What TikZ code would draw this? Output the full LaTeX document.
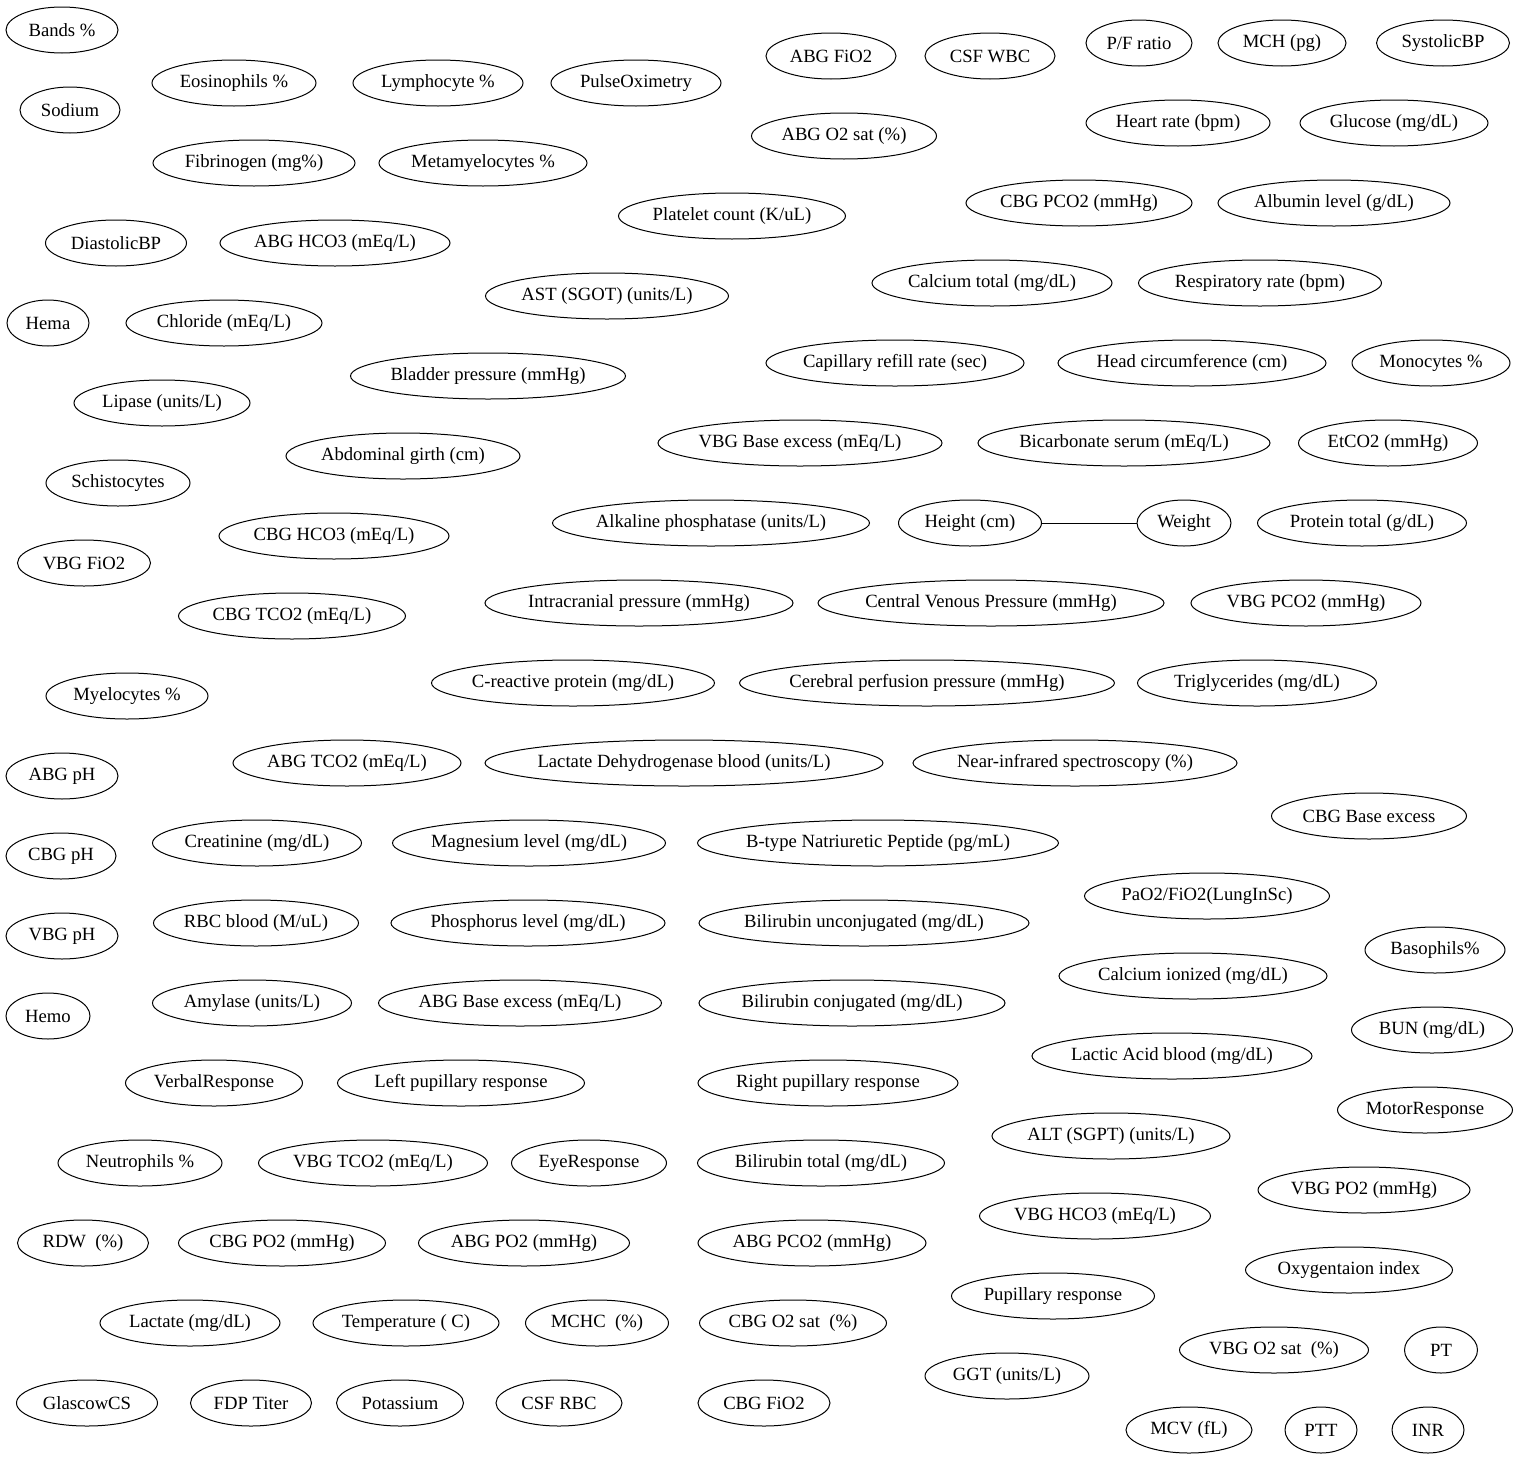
\documentclass[tikz,border=0pt]{standalone}
\usepackage{fontspec}
\setmainfont{Liberation Serif}
\usetikzlibrary{shapes.geometric}

\tikzset{var/.style={ellipse, draw, line width=1pt, inner xsep=-6pt, inner ysep=0pt, minimum height=46pt,
  font=\fontsize{18.67}{22}\selectfont}}

\begin{document}
\begin{tikzpicture}[x=1pt,y=-1pt]
  \useasboundingbox (0,0) rectangle (1521,1459);

  \node (bands)		at (62,30)	[var, minimum width=112]	{Bands \%};
  \node (sodium)	at (70,110)	[var, minimum width=100]	{Sodium};
  \node (eosinophils)	at (234,83)	[var, minimum width=164]	{Eosinophils \%};
  \node (lymphocyte)	at (438,83)	[var, minimum width=170]	{Lymphocyte \%};
  \node (pulseox)	at (636,83)	[var, minimum width=170]	{PulseOximetry};
  \node (fibrinogen)	at (254,163)	[var, minimum width=202]	{Fibrinogen (mg\%)};
  \node (metamyelo)	at (483,163)	[var, minimum width=208]	{Metamyelocytes \%};
  \node (abg-fio2)	at (831,56)	[var, minimum width=130]	{ABG FiO2};
  \node (csf-wbc)	at (990,56)	[var, minimum width=130]	{CSF WBC};
  \node (pf-ratio)	at (1139,43)	[var, minimum width=106]	{P/F ratio};
  \node (mch)		at (1282,43)	[var, minimum width=128]	{MCH (pg)};
  \node (systolic)	at (1443,43)	[var, minimum width=133]	{SystolicBP};
  \node (abg-o2sat)	at (844,136)	[var, minimum width=185]	{ABG O2 sat (\%)};
  \node (heart-rate)	at (1178,123)	[var, minimum width=184]	{Heart rate (bpm)};
  \node (glucose)	at (1394,123)	[var, minimum width=188]	{Glucose (mg/dL)};
  \node (platelet)	at (732,216)	[var, minimum width=227]	{Platelet count (K/uL)};
  \node (cbg-pco2)	at (1079,203)	[var, minimum width=226]	{CBG PCO2 (mmHg)};
  \node (albumin)	at (1334,203)	[var, minimum width=232]	{Albumin level (g/dL)};
  \node (diastolic)	at (116,243)	[var, minimum width=141]	{DiastolicBP};
  \node (abg-hco3)	at (335,243)	[var, minimum width=230]	{ABG HCO3 (mEq/L)};
  \node (ast)		at (607,296)	[var, minimum width=243]	{AST (SGOT) (units/L)};
  \node (calcium-tot)	at (992,283)	[var, minimum width=240]	{Calcium total (mg/dL)};
  \node (resp-rate)	at (1260,283)	[var, minimum width=243]	{Respiratory rate (bpm)};
  \node (hema)		at (48,323)	[var, minimum width=82]		{Hema};
  \node (chloride)	at (224,323)	[var, minimum width=196]	{Chloride (mEq/L)};
  \node (bladder)	at (488,376)	[var, minimum width=275]	{Bladder pressure (mmHg)};
  \node (cap-refill)	at (895,363)	[var, minimum width=258]	{Capillary refill rate (sec)};
  \node (head-circ)	at (1192,363)	[var, minimum width=268]	{Head circumference (cm)};
  \node (monocytes)	at (1431,363)	[var, minimum width=158]	{Monocytes \%};
  \node (lipase)	at (162,403)	[var, minimum width=176]	{Lipase (units/L)};
  \node (abd-girth)	at (403,456)	[var, minimum width=234]	{Abdominal girth (cm)};
  \node (vbg-be)	at (800,443)	[var, minimum width=284]	{VBG Base excess (mEq/L)};
  \node (bicarb)	at (1124,443)	[var, minimum width=292]	{Bicarbonate serum (mEq/L)};
  \node (etco2)		at (1388,443)	[var, minimum width=179]	{EtCO2 (mmHg)};
  \node (schisto)	at (118,483)	[var, minimum width=144]	{Schistocytes};
  \node (cbg-hco3)	at (334,536)	[var, minimum width=230]	{CBG HCO3 (mEq/L)};
  \node (alk-phos)	at (711,523)	[var, minimum width=317]	{Alkaline phosphatase (units/L)};
  \node (height)	at (970,523)	[var, minimum width=143]	{Height (cm)};
  \node (weight)	at (1184,523)	[var, minimum width=94]		{Weight};
  \node (protein)	at (1362,523)	[var, minimum width=209]	{Protein total (g/dL)};
  \node (vbg-fio2)	at (84,563)	[var, minimum width=133]	{VBG FiO2};
  \node (cbg-tco2)	at (292,616)	[var, minimum width=227]	{CBG TCO2 (mEq/L)};
  \node (icp)		at (639,603)	[var, minimum width=308]	{Intracranial pressure (mmHg)};
  \node (cvp)		at (991,603)	[var, minimum width=346]	{Central Venous Pressure (mmHg)};
  \node (vbg-pco2)	at (1306,603)	[var, minimum width=230]	{VBG PCO2 (mmHg)};
  \node (myelo)		at (127,696)	[var, minimum width=162]	{Myelocytes \%};
  \node (crp)		at (573,683)	[var, minimum width=283]	{C-reactive protein (mg/dL)};
  \node (cpp)		at (927,683)	[var, minimum width=375]	{Cerebral perfusion pressure (mmHg)};
  \node (trigly)	at (1257,683)	[var, minimum width=239]	{Triglycerides (mg/dL)};
  \node (abg-ph)	at (62,776)	[var, minimum width=112]	{ABG pH};
  \node (abg-tco2)	at (347,763)	[var, minimum width=228]	{ABG TCO2 (mEq/L)};
  \node (ldh)		at (684,763)	[var, minimum width=398]	{Lactate Dehydrogenase blood (units/L)};
  \node (nirs)		at (1075,763)	[var, minimum width=324]	{Near-infrared spectroscopy (\%)};
  \node (cbg-be)	at (1369,816)	[var, minimum width=195]	{CBG Base excess};
  \node (cbg-ph)	at (61,856)	[var, minimum width=110]	{CBG pH};
  \node (creatinine)	at (257,843)	[var, minimum width=209]	{Creatinine (mg/dL)};
  \node (magnesium)	at (529,843)	[var, minimum width=273]	{Magnesium level (mg/dL)};
  \node (bnp)		at (878,843)	[var, minimum width=361]	{B-type Natriuretic Peptide (pg/mL)};
  \node (pf-lung)	at (1207,896)	[var, minimum width=245]	{PaO2/FiO2(LungInSc)};
  \node (vbg-ph)	at (62,936)	[var, minimum width=112]	{VBG pH};
  \node (rbc)		at (256,923)	[var, minimum width=205]	{RBC blood (M/uL)};
  \node (phosphorus)	at (528,923)	[var, minimum width=274]	{Phosphorus level (mg/dL)};
  \node (bili-unconj)	at (864,923)	[var, minimum width=330]	{Bilirubin unconjugated (mg/dL)};
  \node (basophils)	at (1435,950)	[var, minimum width=140]	{Basophils\%};
  \node (calcium-ion)	at (1193,976)	[var, minimum width=268]	{Calcium ionized (mg/dL)};
  \node (hemo)		at (48,1016)	[var, minimum width=84]		{Hemo};
  \node (amylase)	at (252,1003)	[var, minimum width=199]	{Amylase (units/L)};
  \node (abg-be)	at (520,1003)	[var, minimum width=283]	{ABG Base excess (mEq/L)};
  \node (bili-conj)	at (852,1003)	[var, minimum width=306]	{Bilirubin conjugated (mg/dL)};
  \node (bun)		at (1432,1030)	[var, minimum width=161]	{BUN (mg/dL)};
  \node (lactic)	at (1172,1056)	[var, minimum width=280]	{Lactic Acid blood (mg/dL)};
  \node (verbal)	at (214,1083)	[var, minimum width=177]	{VerbalResponse};
  \node (left-pupil)	at (461,1083)	[var, minimum width=247]	{Left pupillary response};
  \node (right-pupil)	at (828,1083)	[var, minimum width=260]	{Right pupillary response};
  \node (motor)		at (1425,1110)	[var, minimum width=175]	{MotorResponse};
  \node (alt)		at (1111,1136)	[var, minimum width=238]	{ALT (SGPT) (units/L)};
  \node (neutrophils)	at (140,1163)	[var, minimum width=164]	{Neutrophils \%};
  \node (vbg-tco2)	at (373,1163)	[var, minimum width=229]	{VBG TCO2 (mEq/L)};
  \node (eye)		at (589,1163)	[var, minimum width=155]	{EyeResponse};
  \node (bili-tot)	at (821,1163)	[var, minimum width=247]	{Bilirubin total (mg/dL)};
  \node (vbg-po2)	at (1364,1190)	[var, minimum width=212]	{VBG PO2 (mmHg)};
  \node (vbg-hco3)	at (1095,1216)	[var, minimum width=231]	{VBG HCO3 (mEq/L)};
  \node (rdw)		at (83,1243)	[var, minimum width=131]	{RDW\ \ (\%)};
  \node (cbg-po2)	at (282,1243)	[var, minimum width=207]	{CBG PO2 (mmHg)};
  \node (abg-po2)	at (524,1243)	[var, minimum width=211]	{ABG PO2 (mmHg)};
  \node (abg-pco2)	at (812,1243)	[var, minimum width=228]	{ABG PCO2 (mmHg)};
  \node (oxy-index)	at (1349,1270)	[var, minimum width=207]	{Oxygentaion index};
  \node (pupil)		at (1053,1296)	[var, minimum width=203]	{Pupillary response};
  \node (lactate)	at (190,1323)	[var, minimum width=180]	{Lactate (mg/dL)};
  \node (temp)		at (406,1323)	[var, minimum width=186]	{Temperature ( C)};
  \node (mchc)		at (597,1323)	[var, minimum width=143]	{MCHC\ \ (\%)};
  \node (cbg-o2sat)	at (793,1323)	[var, minimum width=187]	{CBG O2 sat\ \ (\%)};
  \node (vbg-o2sat)	at (1274,1350)	[var, minimum width=189]	{VBG O2 sat\ \ (\%)};
  \node (pt)		at (1441,1350)	[var, minimum width=73]		{PT};
  \node (ggt)		at (1007,1376)	[var, minimum width=164]	{GGT (units/L)};
  \node (glasgow)	at (87,1403)	[var, minimum width=141]	{GlascowCS};
  \node (fdp)		at (251,1403)	[var, minimum width=121]	{FDP Titer};
  \node (potassium)	at (400,1403)	[var, minimum width=127]	{Potassium};
  \node (csf-rbc)	at (559,1403)	[var, minimum width=126]	{CSF RBC};
  \node (cbg-fio2)	at (764,1403)	[var, minimum width=132]	{CBG FiO2};
  \node (mcv)		at (1189,1430)	[var, minimum width=126]	{MCV (fL)};
  \node (ptt)		at (1321,1430)	[var, minimum width=72]		{PTT};
  \node (inr)		at (1428,1430)	[var, minimum width=72]		{INR};

  \draw[line width=1pt] (height) -- (weight);
\end{tikzpicture}
\end{document}
